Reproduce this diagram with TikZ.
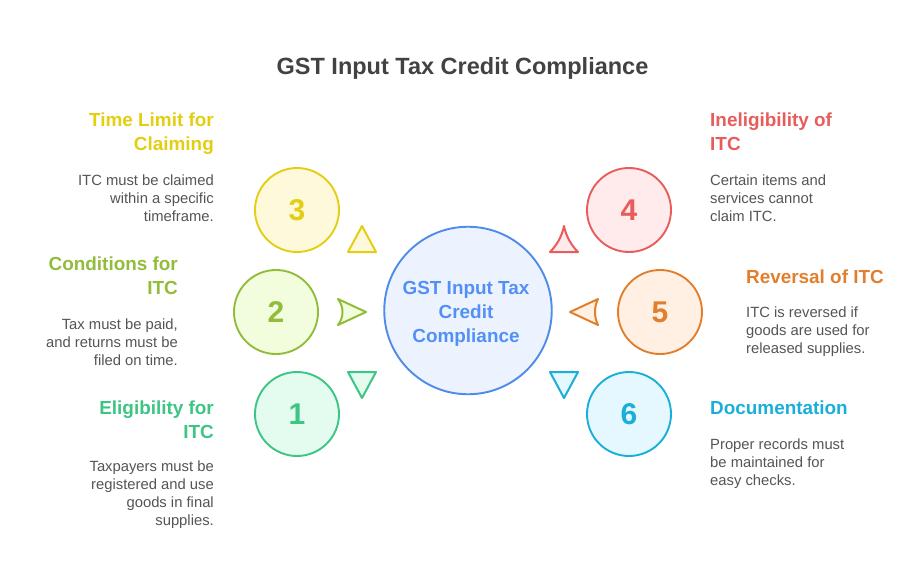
\documentclass[tikz,border=0pt]{standalone}
\usepackage{fontspec}
\setmainfont{Liberation Sans}
\definecolor{cy}{HTML}{E3CE12}\definecolor{fy}{HTML}{FFF9DB}
\definecolor{cg}{HTML}{93BC3B}\definecolor{fg}{HTML}{F1FDDD}
\definecolor{ct}{HTML}{3CC583}\definecolor{ft}{HTML}{E3FCEF}
\definecolor{cr}{HTML}{E85C5C}\definecolor{fr}{HTML}{FFEBEB}
\definecolor{co}{HTML}{E17F2E}\definecolor{fo}{HTML}{FFF0E3}
\definecolor{cb}{HTML}{1AAFD8}\definecolor{fb}{HTML}{E5F8FF}
\definecolor{cc}{HTML}{4F8BE8}\definecolor{fc}{HTML}{ECF3FF}\definecolor{tc}{HTML}{5390F5}
\definecolor{ttl}{HTML}{424242}\definecolor{bdy}{HTML}{555555}
\tikzset{
  numdisc/.style={circle,draw=#1,line width=1.9pt,minimum size=84pt,inner sep=0pt,text=#1,font=\bfseries\fontsize{30}{30}\selectfont},
  head/.style={inner sep=0pt,text=#1,font=\bfseries\fontsize{18.9}{24}\selectfont},
  bodytxt/.style={inner sep=0pt,text=bdy,font=\fontsize{14.8}{18}\selectfont},
  tri/.style={line width=2pt,line join=round},
}
\begin{document}
\begin{tikzpicture}[x=1pt,y=-1pt]
\useasboundingbox (0,0) rectangle (924,576);
\fill[white] (0,0) rectangle (924,576);
\node[inner sep=0pt,text=ttl,font=\bfseries\fontsize{23.5}{28}\selectfont] (title) at (462.5,68.5) {GST Input Tax Credit Compliance};
% centre
\node[circle,draw=cc,fill=fc,line width=1.9pt,minimum size=167.5pt,inner sep=0pt] (hub) at (468,310.5) {};
\node[inner sep=0pt,align=center,text=tc,font=\bfseries\fontsize{18.9}{24}\selectfont] (hubtext) at (466,313.5) {GST Input Tax\\Credit\\Compliance};
% discs
\node[numdisc=cy,fill=fy] (n3) at (297,210) {3};
\node[numdisc=cg,fill=fg] (n2) at (276,312) {2};
\node[numdisc=ct,fill=ft] (n1) at (297,414) {1};
\node[numdisc=cr,fill=fr] (n4) at (629,210) {4};
\node[numdisc=co,fill=fo] (n5) at (660,312) {5};
\node[numdisc=cb,fill=fb] (n6) at (629,414) {6};
% triangles
\draw[tri,draw=cy,fill=fy] (362,226) -- (376,252) -- (348,252) -- cycle;
\draw[tri,draw=cg,fill=fg] (338,299) -- (366,312) -- (338,325) .. controls (344,317) and (344,307) .. (338,299) -- cycle;
\draw[tri,draw=ct,fill=ft] (348,372) -- (376,372) -- (362,398) -- cycle;
\draw[tri,draw=cr,fill=fr] (564,226) .. controls (566,236) and (571,245) .. (578,252) -- (550,252) .. controls (557,245) and (562,236) .. (564,226) -- cycle;
\draw[tri,draw=co,fill=fo] (570,312) -- (598,299) .. controls (594,307) and (594,317) .. (598,325) -- cycle;
\draw[tri,draw=cb,fill=fb] (550,372) -- (578,372) -- (564,398) -- cycle;
% left texts
\node[head=cy,anchor=north east,align=right] (h3) at (214,113) {Time Limit for\\Claiming};
\node[bodytxt,anchor=north east,align=right] (b3) at (214,175) {ITC must be claimed\\within a specific\\timeframe.};
\node[head=cg,anchor=north east,align=right] (h2) at (178,257) {Conditions for\\ITC};
\node[bodytxt,anchor=north east,align=right] (b2) at (178,319) {Tax must be paid,\\and returns must be\\filed on time.};
\node[head=ct,anchor=north east,align=right] (h1) at (214,401) {Eligibility for\\ITC};
\node[bodytxt,anchor=north east,align=right] (b1) at (214,460.5) {Taxpayers must be\\registered and use\\goods in final\\supplies.};
% right texts
\node[head=cr,anchor=north west,align=left] (h4) at (710,113) {Ineligibility of\\ITC};
\node[bodytxt,anchor=north west,align=left] (b4) at (710,175) {Certain items and\\services cannot\\claim ITC.};
\node[head=co,anchor=north west,align=left] (h5) at (746,270) {Reversal of ITC};
\node[bodytxt,anchor=north west,align=left] (b5) at (746,307) {ITC is reversed if\\goods are used for\\released supplies.};
\node[head=cb,anchor=north west,align=left] (h6) at (710,401) {Documentation};
\node[bodytxt,anchor=north west,align=left] (b6) at (710,439) {Proper records must\\be maintained for\\easy checks.};
\end{tikzpicture}
\end{document}
